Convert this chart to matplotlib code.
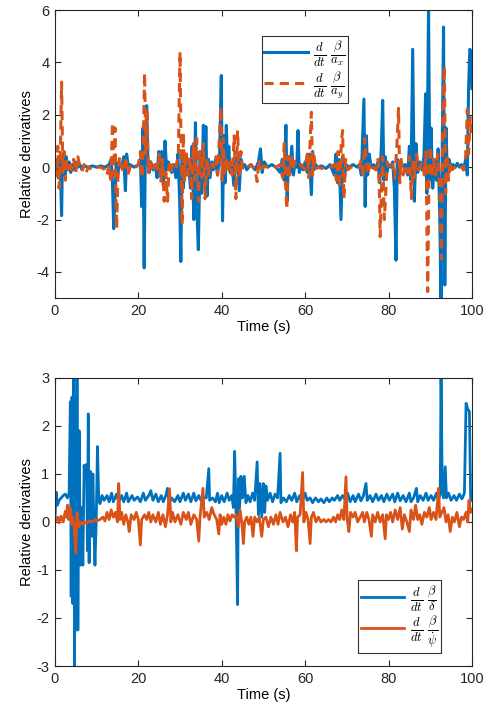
import numpy as np
import matplotlib.pyplot as plt

plt.rcParams.update({
    'font.family': 'Liberation Sans',
    'font.size': 10.5,
    'mathtext.fontset': 'cm',
    'axes.unicode_minus': False,
    'axes.linewidth': 0.8,
    'xtick.direction': 'in',
    'ytick.direction': 'in',
    'xtick.top': True,
    'ytick.right': True,
    'xtick.major.size': 4,
    'ytick.major.size': 4,
    'axes.edgecolor': '0.15',
    'xtick.color': '0.15',
    'ytick.color': '0.15',
})

BLUE = '#0072BD'
ORANGE = '#D95319'

# ---------------- top panel: d/dt beta/a_x and d/dt beta/a_y ----------------
t_ax = [0.0, 0.5, 0.8, 1.1, 1.4, 1.6, 1.8, 2.1, 2.4, 2.7, 3.0, 3.4, 3.8, 4.2, 4.6, 5.0, 5.5, 6.0, 6.5, 7.0,
        8.0, 9.0, 10.0, 11.0, 12.0, 13.0, 13.5, 13.8, 14.1, 14.4, 14.7, 15.0, 15.4, 16.0, 16.5, 16.9, 17.2,
        17.6, 18.0, 19.0, 20.0, 20.5, 20.8, 21.1, 21.4, 21.7, 22.0, 22.3, 22.6, 23.0, 23.5, 24.0, 24.5, 24.9,
        25.2, 25.6, 26.0, 26.4, 26.8, 27.2, 27.6, 28.0, 28.5, 29.0, 29.5, 29.9, 30.2, 30.5, 30.8, 31.2, 31.6,
        32.0, 32.5, 32.9, 33.3, 33.7, 34.0, 34.4, 34.8, 35.2, 35.6, 35.9, 36.2, 36.5, 36.8, 37.2, 37.6, 38.0,
        38.5, 39.0, 39.5, 39.9, 40.2, 40.5, 40.8, 41.1, 41.4, 41.7, 42.0, 42.5, 42.9, 43.3, 43.8, 44.2, 44.6,
        45.0, 45.5, 46.0, 47.0, 48.0, 48.8, 49.3, 49.7, 50.2, 51.0, 52.0, 53.0, 54.0, 54.5, 55.0, 55.4, 55.7,
        56.0, 56.4, 56.8, 57.2, 57.6, 58.0, 58.3, 58.6, 59.0, 59.5, 60.0, 60.5, 61.0, 61.5, 61.8, 62.1, 62.5,
        63.0, 64.0, 65.0, 66.0, 67.0, 67.4, 67.8, 68.2, 68.6, 69.0, 69.4, 69.8, 70.5, 71.5, 72.5, 73.0, 73.5,
        73.8, 74.1, 74.4, 74.7, 75.0, 75.4, 75.8, 76.5, 77.0, 77.5, 77.9, 78.3, 78.6, 78.9, 79.2, 79.6, 80.0,
        80.5, 81.0, 81.4, 81.8, 82.1, 82.5, 83.0, 83.5, 84.0, 84.6, 85.0, 85.4, 85.8, 86.2, 86.6, 87.0, 87.5,
        88.0, 88.5, 88.9, 89.2, 89.6, 89.9, 90.2, 90.6, 91.0, 91.5, 91.9, 92.3, 92.6, 92.9, 93.2, 93.5, 93.8,
        94.1, 94.5, 95.0, 95.5, 96.0, 96.5, 97.0, 97.5, 98.0, 98.5, 98.9, 99.2, 99.5, 99.8, 100.0]
v_ax = [0.0, 0.3, -0.4, 0.4, -0.6, -1.85, 0.2, 0.5, -0.3, 0.4, -0.1, 0.2, -0.2, 0.1, -0.1, 0.2, 0.0, 0.1, -0.1, 0.05,
        0.0, 0.05, 0.0, 0.05, 0.0, 0.1, 0.3, -0.6, -2.35, -1.2, 0.2, -0.4, 0.1, 0.0, 0.4, -0.9, 0.5,
        0.0, 0.1, 0.0, 0.1, 0.3, -1.5, 1.5, -3.85, 0.8, 2.35, 0.3, -0.2, 0.2, -0.1, 0.1, -0.4, 0.6,
        -0.2, 0.6, -0.7, 1.0, -0.1, 0.2, 0.0, -0.2, 0.1, -0.4, 0.5, -1.2, -3.6, 0.4, -0.8, 0.5, -0.3,
        0.2, -0.8, 0.8, -2.0, 1.7, -1.5, -3.15, 0.6, -1.0, 1.6, -0.6, 1.55, -1.1, 0.3, -0.4, 0.2, -0.1,
        0.3, -0.3, 0.5, 3.5, -2.05, 1.2, -0.6, 1.6, 0.0, 0.8, -0.2, 0.1, -0.7, 0.2, 0.4, -0.9, 0.3,
        0.0, 0.1, -0.1, 0.1, -0.1, 0.2, 0.7, -0.2, 0.2, 0.0, 0.1, 0.0, -0.2, 0.3, -0.5, 1.6, -1.3,
        0.4, -0.2, 0.8, -0.3, 0.2, 0.0, 1.4, -0.2, 0.1, -0.1, 0.2, -0.2, 0.5, -1.05, 0.6, -0.1, 0.1,
        0.0, 0.05, -0.05, 0.1, -0.3, 0.5, -0.6, 0.3, -2.0, 0.4, -0.5, 0.1, 0.0, 0.1, 0.0, 0.1, -0.3,
        1.2, 2.6, -1.5, 1.2, -0.3, 0.5, 0.0, 0.1, -0.1, 0.2, -0.6, 0.9, 2.55, -0.5, 0.4, -0.2, 0.1,
        0.0, 0.2, -0.8, -3.55, 0.3, -0.4, 0.2, 0.0, 0.1, -0.3, 0.8, -0.5, 4.5, -1.3, 0.9, -0.2, 0.2,
        -0.1, 0.4, 2.8, -1.0, 6.2, -0.5, 1.5, -0.8, 0.3, -0.5, 0.7, -2.0, -5.2, 1.0, 5.35, -4.5, 1.5,
        -0.4, 0.3, 0.0, 0.1, 0.0, 0.15, 0.0, 0.1, -0.1, 0.3, -0.3, 3.0, 4.5, 4.4, 3.0]

t_ay = [0.0, 0.4, 0.7, 1.0, 1.3, 1.6, 1.9, 2.2, 2.5, 2.8, 3.2, 3.6, 4.0, 4.5, 5.0, 5.5, 6.0, 6.5, 7.0, 7.5,
        8.0, 9.0, 10.0, 11.0, 12.0, 12.5, 13.0, 13.4, 13.8, 14.1, 14.4, 14.8, 15.1, 15.5, 16.0, 16.5, 17.0,
        17.5, 18.0, 19.0, 20.0, 20.5, 20.9, 21.2, 21.5, 21.8, 22.1, 22.4, 22.8, 23.2, 24.0, 24.5, 25.0, 25.4,
        25.8, 26.2, 26.6, 27.0, 27.4, 27.8, 28.2, 29.0, 29.6, 30.0, 30.2, 30.5, 30.8, 31.1, 31.5, 32.0, 32.4,
        32.8, 33.2, 33.6, 34.0, 34.4, 34.8, 35.2, 35.6, 36.0, 36.4, 36.8, 37.2, 38.0, 38.6, 39.0, 39.4, 39.8,
        40.1, 40.4, 40.7, 41.0, 41.5, 42.0, 42.5, 43.0, 43.4, 43.8, 44.2, 44.6, 45.0, 46.0, 47.0, 48.0, 48.5,
        48.9, 49.3, 50.0, 51.0, 52.0, 53.0, 54.0, 54.6, 55.0, 55.3, 55.6, 55.9, 56.3, 56.7, 57.1, 57.5, 58.0,
        59.0, 60.0, 60.5, 60.9, 61.2, 61.5, 61.8, 62.1, 62.5, 63.0, 64.0, 65.0, 66.0, 67.0, 67.5, 67.9, 68.3,
        68.7, 69.0, 69.3, 69.7, 70.2, 71.0, 72.0, 73.0, 73.5, 73.9, 74.3, 74.7, 75.1, 75.5, 76.0, 77.0, 77.5,
        77.8, 78.0, 78.3, 78.6, 79.0, 79.3, 79.7, 80.2, 81.0, 81.5, 82.0, 82.4, 82.7, 83.0, 83.5, 84.0, 84.5,
        85.0, 85.5, 85.9, 86.3, 86.7, 87.2, 88.0, 88.6, 89.0, 89.4, 89.7, 90.0, 90.4, 90.8, 91.3, 91.8, 92.3,
        92.7, 93.0, 93.4, 93.7, 94.0, 94.4, 94.8, 95.2, 96.0, 97.0, 98.0, 98.5, 98.9, 99.2, 99.6, 100.0]
v_ay = [0.0, -0.3, 0.8, -0.8, 0.5, 3.25, -0.2, 0.6, -0.5, 0.3, -0.1, 0.2, -0.1, 0.3, -0.2, 0.4, 0.0, -0.15, 0.1, -0.2,
        0.0, -0.1, 0.0, 0.0, -0.1, -0.3, 0.1, -0.6, 1.7, -0.3, 1.5, -2.35, -0.4, 0.4, 0.0, -0.2, 0.4,
        -0.3, 0.0, -0.1, 0.1, 0.6, -0.4, 1.0, 3.6, 0.5, 2.2, -0.2, 0.3, -0.2, 0.1, -0.2, 0.5, -0.6,
        0.3, -1.3, -0.2, -1.3, 0.1, -0.2, 0.1, -0.1, 0.5, 4.4, 1.5, -2.2, 1.3, -0.5, 0.6, -0.3, 0.4,
        -1.2, 0.9, -0.5, 1.1, -1.3, 0.6, -0.4, 0.9, -1.2, 0.4, -0.3, 0.2, 0.0, 0.4, -0.3, 1.0, 2.3,
        -0.5, 1.1, -0.3, 0.4, -0.2, 0.2, -0.3, 1.2, -1.2, 1.4, -0.4, 0.6, -0.1, 0.0, 0.1, -0.1, -0.55,
        0.3, -0.2, 0.05, 0.0, 0.05, 0.0, 0.1, -0.4, 0.9, -0.6, -1.6, 0.4, -0.3, 0.5, -0.1, 0.2, 0.0,
        0.1, -0.1, 0.5, -0.4, 1.0, 2.1, -0.3, 0.5, -0.1, 0.0, -0.05, 0.05, 0.0, 0.1, -0.5, 0.6, -0.8,
        1.0, 1.4, -1.2, 0.3, -0.1, 0.0, 0.05, 0.0, 0.3, -0.4, 1.1, 0.2, -0.3, 0.2, 0.0, -0.1, 0.3,
        -0.8, -2.65, -0.9, 0.4, -2.0, -1.1, 0.2, -0.1, 0.1, -0.4, 0.8, 2.25, -0.6, 0.3, -0.3, 0.1, -0.2,
        0.4, -1.2, 0.2, -0.4, 0.5, -0.1, 0.2, -0.3, 0.6, -4.75, -0.5, 0.8, -0.4, 0.3, -0.3, 0.5, -0.8,
        -3.5, 1.4, 3.85, -1.0, 0.5, -0.5, 0.2, -0.1, 0.0, 0.1, -0.1, 0.4, 2.2, 0.5, 1.9, 1.2]

# ---------------- bottom panel: d/dt beta/delta and d/dt beta/psi_dot ----------------
t_dl = [0.0, 0.3, 0.6, 1.0, 1.5, 2.0, 2.5, 3.0, 3.4, 3.7, 3.9, 4.1, 4.3, 4.5, 4.7, 4.9, 5.1, 5.3, 5.5, 5.8,
        6.1, 6.4, 6.7, 7.0, 7.3, 7.6, 7.8, 8.0, 8.2, 8.5, 8.8, 9.1, 9.4, 9.6, 9.9, 10.2, 10.5, 10.8, 11.3,
        11.8, 12.5, 13.0, 13.6, 14.0, 14.8, 15.3, 16.0, 16.5, 17.2, 17.6, 18.5, 19.0, 19.8, 20.5, 21.2, 21.7,
        22.5, 23.0, 23.5, 24.2, 24.8, 25.5, 26.0, 26.6, 27.0, 27.4, 28.0, 28.7, 29.5, 30.0, 30.8, 31.3, 32.0,
        32.6, 33.3, 33.8, 34.5, 35.0, 35.7, 36.3, 36.9, 37.1, 37.8, 38.5, 39.0, 39.4, 40.0, 40.6, 41.3, 41.8,
        42.4, 42.8, 43.1, 43.4, 43.8, 44.0, 44.3, 44.6, 45.0, 45.4, 45.8, 46.3, 46.8, 47.4, 47.9, 48.5, 48.8,
        49.2, 49.6, 50.0, 50.3, 50.6, 51.0, 51.6, 52.2, 52.8, 53.4, 54.0, 54.2, 54.8, 55.5, 56.2, 56.8, 57.5,
        58.0, 58.7, 59.3, 60.0, 60.5, 61.2, 61.8, 62.5, 63.2, 63.8, 64.5, 65.2, 65.8, 66.5, 67.0, 67.8, 68.3,
        69.0, 69.5, 70.2, 70.8, 71.5, 72.0, 72.8, 73.4, 74.0, 74.6, 74.9, 75.6, 76.2, 77.0, 77.6, 78.3, 78.9,
        79.6, 80.2, 81.0, 81.5, 82.2, 82.8, 83.5, 84.2, 85.0, 85.4, 86.0, 86.7, 87.0, 87.6, 88.3, 89.0, 89.5,
        90.2, 90.8, 91.5, 92.0, 92.4, 92.6, 92.9, 93.2, 93.6, 93.9, 94.4, 95.0, 95.7, 96.3, 97.0, 97.6, 98.2,
        98.6, 99.0, 99.4, 99.7, 100.0]
v_dl = [0.05, 0.62, 0.35, 0.45, 0.5, 0.55, 0.58, 0.5, 0.6, 2.5, -1.55, 2.6, -1.7, 3.05, -3.05, 2.6, -2.25, 3.05, -2.25, 1.9,
        -0.9, 0.3, -0.9, 1.18, 0.9, 1.2, -0.6, 2.25, -0.85, 1.05, -0.3, 1.0, -0.3, -0.9, 0.0, 1.57, 0.5, 0.38, 0.55,
        0.45, 0.55, 0.42, 0.6, 0.42, 0.58, 0.42, 0.55, 0.42, 0.6, 0.42, 0.55, 0.45, 0.52, 0.42, 0.6, 0.45,
        0.55, 0.65, 0.45, 0.58, 0.42, 0.55, 0.42, 0.55, 0.7, 0.4, 0.5, 0.42, 0.55, 0.42, 0.6, 0.45, 0.58,
        0.42, 0.6, 0.44, 0.55, 0.45, 0.52, 0.5, 1.11, 0.45, 0.5, 0.42, 0.6, 0.4, 0.55, 0.42, 0.6, 0.45,
        0.55, 0.3, 1.47, 0.4, -1.72, 0.9, 0.3, 0.95, 0.5, 0.95, 0.4, 0.55, 0.42, 0.6, 0.45, 1.25, 0.15,
        0.8, 0.1, 0.8, 0.2, 0.75, 0.45, 0.6, 0.42, 0.58, 0.5, 1.43, 0.4, 0.5, 0.42, 0.55, 0.45, 0.6,
        0.42, 0.55, 0.42, 0.6, 0.45, 0.5, 0.4, 0.5, 0.42, 0.48, 0.4, 0.5, 0.42, 0.5, 0.45, 0.55, 0.45,
        0.55, 0.48, 0.6, 0.42, 0.55, 0.42, 0.58, 0.44, 0.55, 0.8, 0.45, 0.55, 0.42, 0.58, 0.45, 0.55, 0.42,
        0.58, 0.45, 0.58, 0.42, 0.6, 0.44, 0.55, 0.42, 0.6, 0.42, 0.5, 0.7, 0.42, 0.55, 0.45, 0.6, 0.45,
        0.55, 0.45, 0.6, 0.45, 0.6, 3.05, 0.6, 0.5, 1.15, 0.5, 0.6, 0.45, 0.55, 0.45, 0.58, 0.48, 0.6,
        2.47, 2.35, 2.3, 0.5, 0.45]

t_ps = [0.0, 0.3, 0.7, 1.0, 1.5, 2.0, 2.5, 2.8, 3.0, 3.3, 3.7, 4.0, 4.3, 4.6, 5.0, 5.3, 5.7, 6.1, 6.6, 7.0,
        7.6, 8.2, 9.0, 9.6, 10.0, 10.8, 11.5, 12.0, 12.5, 13.0, 13.5, 14.0, 14.5, 15.0, 15.3, 15.6, 16.0,
        16.5, 17.0, 17.5, 17.8, 18.3, 19.0, 19.5, 20.0, 20.5, 20.8, 21.5, 22.0, 22.5, 23.0, 23.5, 24.2, 24.8,
        25.3, 25.9, 26.5, 27.0, 27.5, 27.8, 28.2, 28.8, 29.5, 30.2, 30.8, 31.5, 32.0, 32.6, 33.3, 34.0, 34.5,
        34.8, 35.5, 35.8, 36.4, 37.0, 37.6, 38.2, 38.8, 39.3, 39.6, 40.0, 40.5, 41.0, 41.5, 42.0, 42.5, 43.0,
        43.5, 44.0, 44.4, 44.8, 45.2, 45.5, 46.0, 46.5, 47.0, 47.5, 47.9, 48.5, 49.0, 49.6, 50.0, 50.6, 51.2,
        51.8, 52.4, 53.0, 53.5, 54.0, 54.7, 55.3, 55.9, 56.5, 57.0, 57.5, 57.9, 58.2, 58.8, 59.4, 59.7, 60.2,
        60.7, 61.2, 61.5, 62.0, 62.6, 63.2, 63.8, 64.5, 65.0, 65.6, 66.2, 66.8, 67.3, 67.8, 68.3, 68.8, 69.3,
        69.8, 70.1, 70.5, 70.9, 71.5, 72.0, 72.6, 73.2, 73.8, 74.2, 74.8, 75.3, 75.9, 76.2, 76.8, 77.4, 78.0,
        78.6, 79.2, 79.5, 80.0, 80.5, 81.0, 81.6, 82.2, 82.8, 83.3, 83.8, 84.4, 85.0, 85.4, 86.0, 86.5, 87.0,
        87.5, 88.0, 88.6, 89.2, 89.8, 90.2, 90.8, 91.4, 92.0, 92.3, 92.8, 93.3, 93.8, 94.3, 94.8, 95.3, 95.8,
        96.4, 97.0, 97.5, 98.0, 98.6, 99.0, 99.3, 99.7, 100.0]
v_ps = [0.0, 0.05, 0.1, -0.02, 0.12, 0.0, 0.22, 0.1, 0.35, 0.05, 0.3, -0.05, 0.1, -0.1, -0.65, 0.2, -0.1, 0.0, -0.05, 0.0,
        -0.03, 0.02, 0.0, 0.05, 0.02, 0.05, 0.1, 0.02, 0.2, 0.05, 0.25, 0.1, 0.2, 0.0, 0.8, 0.05, 0.2,
        -0.05, 0.15, 0.0, -0.2, 0.15, 0.05, 0.2, 0.05, -0.48, 0.05, 0.15, 0.05, 0.2, 0.0, 0.15, 0.0, 0.2,
        -0.05, 0.15, -0.1, 0.15, 0.69, 0.0, 0.2, 0.0, 0.15, -0.05, 0.2, 0.05, 0.2, -0.05, 0.15, 0.05, -0.4,
        0.1, 0.7, 0.1, 0.2, 0.05, 0.3, 0.15, 0.05, -0.25, 0.15, -0.05, 0.1, -0.05, 0.15, 0.02, 0.15, 0.1,
        0.15, -0.1, 0.25, 0.0, -0.45, 0.0, 0.1, -0.05, 0.1, -0.3, 0.1, 0.0, 0.1, -0.3, 0.05, 0.1, -0.1,
        0.1, -0.05, 0.15, -0.05, 0.2, 0.0, 0.1, -0.1, 0.15, 0.0, 0.2, -0.6, 0.1, 0.15, 1.03, 0.0, 0.2,
        0.05, -0.45, 0.1, 0.2, 0.0, 0.1, 0.0, 0.05, 0.0, 0.05, 0.0, 0.1, 0.0, 0.15, 0.05, 0.25, 0.05,
        0.94, 0.05, -0.2, 0.2, 0.1, 0.2, 0.0, 0.1, 0.2, 0.0, 0.2, 0.05, -0.3, 0.15, 0.0, 0.2, 0.0,
        0.15, -0.35, 0.15, 0.05, 0.2, 0.0, 0.25, 0.05, 0.3, -0.15, 0.15, 0.0, -0.2, 0.25, 0.05, 0.35, 0.05,
        0.15, -0.05, 0.2, 0.1, 0.3, 0.05, 0.2, 0.05, 0.7, 0.1, 0.2, 0.3, 0.0, 0.15, -0.2, 0.1, 0.0,
        0.2, -0.1, 0.1, 0.05, 0.2, 0.0, 0.45, 0.2, 0.25]

lab_ax = r'$\frac{d}{dt}\;\frac{\beta}{a_x}$'
lab_ay = r'$\frac{d}{dt}\;\frac{\beta}{a_y}$'
lab_dl = r'$\frac{d}{dt}\;\frac{\beta}{\delta}$'
lab_ps = r'$\frac{d}{dt}\;\frac{\beta}{\dot{\psi}}$'

fig = plt.figure(figsize=(4.86, 7.15), dpi=100)
ax1 = fig.add_axes([0.113, 0.583, 0.858, 0.403])
ax2 = fig.add_axes([0.113, 0.0685, 0.858, 0.403])

ax1.plot(t_ax, v_ax, color=BLUE, lw=2.2, label=lab_ax)
ax1.plot(t_ay, v_ay, color=ORANGE, lw=2.2, ls=(0, (3, 2)), label=lab_ay)
ax1.set_ylim(-5, 6)
ax1.set_yticks([-4, -2, 0, 2, 4, 6])

ax2.plot(t_dl, v_dl, color=BLUE, lw=2.0, label=lab_dl)
ax2.plot(t_ps, v_ps, color=ORANGE, lw=2.0, label=lab_ps)
ax2.set_ylim(-3, 3)
ax2.set_yticks([-3, -2, -1, 0, 1, 2, 3])

for ax in (ax1, ax2):
    ax.set_xlim(0, 100)
    ax.set_xticks([0, 20, 40, 60, 80, 100])
    ax.set_xlabel('Time (s)', labelpad=2)
    ax.set_ylabel('Relative derivatives', labelpad=2)
    ax.tick_params(length=4, width=0.8, pad=4)

leg1 = ax1.legend(loc='upper left', bbox_to_anchor=(0.496, 0.91), fontsize=13,
                  handlelength=2.4, fancybox=False, framealpha=1, edgecolor='0.2',
                  borderpad=0.15, labelspacing=0.0, handletextpad=0.3, borderaxespad=0)
leg2 = ax2.legend(loc='upper left', bbox_to_anchor=(0.727, 0.298), fontsize=13,
                  handlelength=2.4, fancybox=False, framealpha=1, edgecolor='0.2',
                  borderpad=0.15, labelspacing=0.0, handletextpad=0.3, borderaxespad=0)
for leg in (leg1, leg2):
    leg.get_frame().set_linewidth(0.8)

fig.savefig('out.png', dpi=100)
